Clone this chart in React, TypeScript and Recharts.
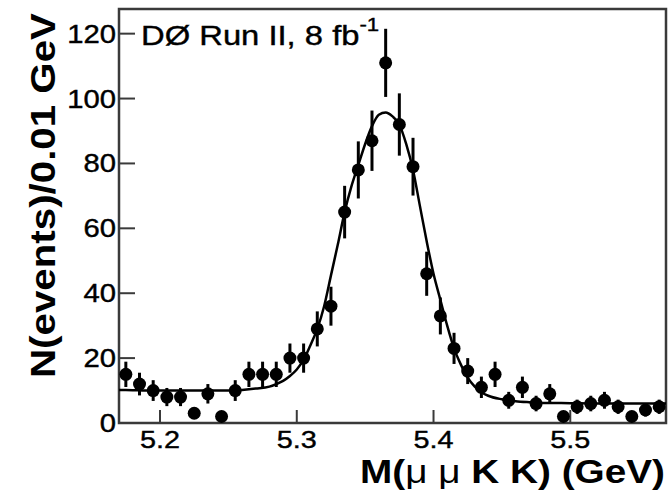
import React from 'react'
import {
  ComposedChart,
  Line,
  Scatter,
  ErrorBar,
  XAxis,
  YAxis,
  ReferenceArea,
} from 'recharts'

// bin centres (GeV) and counts per 0.01 GeV bin
const massBins = [
  5.175, 5.185, 5.195, 5.205, 5.215, 5.225, 5.235, 5.245, 5.255, 5.265,
  5.275, 5.285, 5.295, 5.305, 5.315, 5.325, 5.335, 5.345, 5.355, 5.365,
  5.375, 5.385, 5.395, 5.405, 5.415, 5.425, 5.435, 5.445, 5.455, 5.465,
  5.475, 5.485, 5.495, 5.505, 5.515, 5.525, 5.535, 5.545, 5.555, 5.565,
]
const counts = [
  15, 12, 10, 8, 8, 3, 9, 2, 10, 15,
  15, 15, 20, 20, 29, 36, 65, 78, 87, 111,
  92, 79, 46, 33, 23, 16, 11, 15, 7, 11,
  6, 9, 2, 5, 6, 7, 5, 2, 4, 5,
]
const errors = [
  3.9, 3.5, 3.2, 2.8, 2.8, 1.7, 3, 1.4, 3.2, 3.9,
  3.9, 3.9, 4.5, 4.5, 5.4, 6, 8.1, 8.8, 9.3, 10.5,
  9.6, 8.9, 6.8, 5.7, 4.8, 4, 3.3, 3.9, 2.6, 3.3,
  2.4, 3, 1.4, 2.2, 2.4, 2.6, 2.2, 1.4, 2, 2.2,
]

// fit curve
const fitMass = [
  5.17, 5.18, 5.19, 5.2, 5.21, 5.22, 5.23, 5.24, 5.25, 5.26, 5.27, 5.28,
  5.285, 5.29, 5.295, 5.3, 5.305, 5.31, 5.315, 5.32, 5.325, 5.33, 5.335, 5.34,
  5.345, 5.35, 5.355, 5.36, 5.365, 5.37, 5.375, 5.38, 5.385, 5.39, 5.395, 5.4,
  5.405, 5.41, 5.415, 5.42, 5.425, 5.43, 5.435, 5.44,
  5.45, 5.46, 5.47, 5.48, 5.5, 5.52, 5.54, 5.57,
]
const fitValues = [
  10.2, 10.1, 10, 10, 10, 10, 10, 10, 10, 10.2, 10.6, 11.2,
  12, 13, 14.5, 16.5, 19.5, 24, 29, 36, 45.5, 55, 65, 73,
  79.5, 86, 91.5, 95, 95.7, 94.5, 92, 86, 78, 67, 56, 46,
  38, 30, 23, 18, 14, 11.3, 9.5, 8.4,
  7.3, 6.7, 6.4, 6.2, 6.1, 6, 6, 6,
]

const xTicks = [5.2, 5.3, 5.4, 5.5]
const yMajor = [0, 20, 40, 60, 80, 100, 120]
const yMinor = [5, 10, 15, 25, 30, 35, 45, 50, 55, 65, 70, 75, 85, 90, 95, 105, 110, 115, 125]

const xDomain = [5.17, 5.57]
const yDomain = [0, 127.6]

const points = massBins.map((m, i) => ({ m, n: counts[i], err: errors[i] }))
const fitCurve = fitMass.map((m, i) => ({ m, fit: fitValues[i] }))

const font = '"Liberation Sans", Arial, Helvetica, sans-serif'
const frame = '#3a3a3a'
const stretch = 'scale(1.17,1)'

function YTick(p: any) {
  return (
    <g transform={`translate(${p.x},${p.y})`}>
      <text transform={stretch} textAnchor="end" dy="0.36em" fontSize={25} fontFamily={font}
        fill="#000" stroke="#000" strokeWidth={0.4}>
        {p.payload.value}
      </text>
    </g>
  )
}

function XTick(p: any) {
  return (
    <g transform={`translate(${p.x},${p.y})`}>
      <text transform="scale(1.2,1)" textAnchor="middle" dy="0.71em" fontSize={24} fontFamily={font}
        fill="#000" stroke="#000" strokeWidth={0.4}>
        {p.payload.value.toFixed(1)}
      </text>
    </g>
  )
}

function Dot(p: any) {
  return <circle cx={p.cx} cy={p.cy} r={6.5} fill="#000" />
}

export default function App() {
  return (
    <div style={{ position: 'absolute', left: 0, top: 0, width: 668, height: 495, background: '#fff' }}>
      <ComposedChart width={668} height={495} margin={{ top: 9, right: 2, bottom: 71, left: 117 }}>
        <XAxis
          dataKey="m"
          type="number"
          domain={xDomain}
          ticks={xTicks}
          allowDataOverflow
          interval={0}
          height={1}
          tickSize={-13}
          tickMargin={21}
          axisLine={false}
          tickLine={{ stroke: frame, strokeWidth: 2 }}
          tick={<XTick />}
        />
        <YAxis
          type="number"
          domain={yDomain}
          ticks={yMajor}
          allowDataOverflow
          interval={0}
          width={1}
          tickSize={-16}
          tickMargin={19}
          axisLine={false}
          tickLine={{ stroke: frame, strokeWidth: 2 }}
          tick={<YTick />}
        />
        <YAxis
          yAxisId="minor"
          type="number"
          domain={yDomain}
          ticks={yMinor}
          allowDataOverflow
          interval={0}
          width={1}
          tickSize={-8}
          axisLine={false}
          tickLine={{ stroke: frame, strokeWidth: 2 }}
          tick={false}
        />
        <ReferenceArea
          x1={xDomain[0]}
          x2={xDomain[1]}
          y1={yDomain[0]}
          y2={yDomain[1]}
          fill="none"
          fillOpacity={0}
          stroke={frame}
          strokeWidth={2.5}
        />
        <Line
          data={fitCurve}
          dataKey="fit"
          type="monotone"
          stroke="#000"
          strokeWidth={2.5}
          dot={false}
          isAnimationActive={false}
        />
        <Scatter data={points} dataKey="n" fill="#000" shape={<Dot />} isAnimationActive={false}>
          <ErrorBar dataKey="err" direction="y" width={0} stroke="#000" strokeWidth={3} />
        </Scatter>
      </ComposedChart>
      <svg width={668} height={495} style={{ position: 'absolute', left: 0, top: 0, pointerEvents: 'none' }}>
        <text transform={`translate(141,45) ${stretch}`} fontSize={28} fontFamily={font}
          fill="#000" stroke="#000" strokeWidth={0.4}>
          DØ Run II, 8 fb
          <tspan fontSize={19} dy={-14}>-1</tspan>
        </text>
        <text
          transform="translate(55,13) rotate(-90)"
          textAnchor="end"
          fontSize={35}
          fontWeight="bold"
          fontFamily={font}
          textLength={365}
          lengthAdjust="spacingAndGlyphs"
          fill="#000"
        >
          N(events)/0.01 GeV
        </text>
        <text
          x={665}
          y={483}
          textAnchor="end"
          fontSize={33}
          fontWeight="bold"
          fontFamily={font}
          textLength={305}
          lengthAdjust="spacingAndGlyphs"
          fill="#000"
        >
          M(<tspan fontWeight="normal">μ μ</tspan> K K) (GeV)
        </text>
      </svg>
    </div>
  )
}
